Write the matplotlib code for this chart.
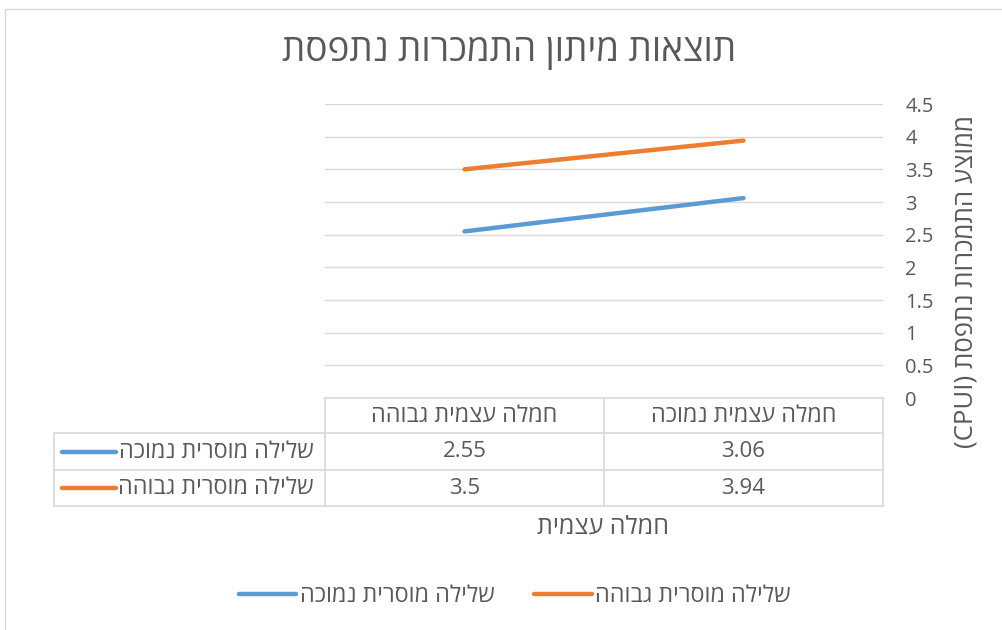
import matplotlib
matplotlib.use("Agg")
import matplotlib.pyplot as plt
from matplotlib.lines import Line2D
from matplotlib.patches import Rectangle

plt.rcParams['font.family'] = ['Open Sans', 'DejaVu Sans']

# ---------------- data ----------------
title = "תוצאות מיתון התמכרות נתפסת"
y_title_he = "ממוצע התמכרות נתפסת"
y_title_latin = "(CPUI)"
x_title = "חמלה עצמית"
categories = ["חמלה עצמית נמוכה", "חמלה עצמית גבוהה"]
series_names = ["שלילה מוסרית נמוכה", "שלילה מוסרית גבוהה"]
series_low_neg = [3.06, 2.55]
series_high_neg = [3.94, 3.5]
series_values = [series_low_neg, series_high_neg]
yticks = [0, 0.5, 1, 1.5, 2, 2.5, 3, 3.5, 4, 4.5]
colors = ["#5B9BD5", "#ED7D31"]

TXT = "#595959"
GRID = "#D9D9D9"
HE_FS = 16.8
NUM_FS = 16


def vis(s):
    """Visual (left-to-right) order for a pure Hebrew string."""
    return s[::-1]


W, H = 1003, 630
fig = plt.figure(figsize=(W / 100, H / 100), dpi=100)


def fx(px):
    return px / W


def fy(py):
    return 1 - py / H


# outer chart border
fig.patches.append(Rectangle((fx(5), fy(640)), fx(1010) - fx(5), fy(9) - fy(640),
                             transform=fig.transFigure, fill=False,
                             edgecolor=GRID, lw=1))

# title
fig.text(fx(509), fy(52), vis(title), ha='center', va='center',
         fontsize=26.5, color=TXT)

# plot area
L, R, T, B = 325, 883, 104, 398
ax = fig.add_axes([fx(L), fy(B), fx(R) - fx(L), fy(T) - fy(B)])
xs = list(range(len(categories)))
for vals, c in zip(series_values, colors):
    ax.plot(xs, vals, color=c, lw=3.2, solid_capstyle='round')
ax.set_xlim(1.5, -0.5)  # right-to-left category order
ax.set_ylim(0, 4.5)
ax.set_yticks(yticks)
ax.set_yticklabels([f"{t:g}" for t in yticks], color=TXT, fontsize=14.5)
ax.yaxis.tick_right()
ax.tick_params(axis='y', length=0, pad=16)
ax.set_xticks([])
for s in ax.spines.values():
    s.set_visible(False)
ax.grid(axis='y', color=GRID, lw=1)
ax.set_axisbelow(True)

# y-axis title
fig.text(fx(966), fy(281), y_title_latin + " " + vis(y_title_he), rotation=90,
         ha='center', va='center', fontsize=18.5, color=TXT)

# ---------------- data table ----------------
col_edges = [L, 604, R]  # columns for categories (left = index 1)
row_edges = [B, 433, 470, 506]
tab_left = 54
ov = fig.add_axes([0, 0, 1, 1])
ov.set_xlim(0, W)
ov.set_ylim(H, 0)
ov.axis('off')
ov.patch.set_alpha(0)

lk = dict(color=GRID, lw=1.2)
ov.plot([L, R], [row_edges[0]] * 2, **lk)
for yy in row_edges[1:]:
    ov.plot([tab_left, R], [yy, yy], **lk)
for xx in col_edges:
    ov.plot([xx, xx], [row_edges[0], row_edges[-1]], **lk)
ov.plot([tab_left, tab_left], [row_edges[1], row_edges[-1]], **lk)

col_centers = {1: (col_edges[0] + col_edges[1]) / 2,
               0: (col_edges[1] + col_edges[2]) / 2}
hy = (row_edges[0] + row_edges[1]) / 2
for i, cat in enumerate(categories):
    ov.text(col_centers[i], hy, vis(cat), ha='center', va='center',
            fontsize=HE_FS, color=TXT)
for r, (name, vals, c) in enumerate(zip(series_names, series_values, colors)):
    cy = (row_edges[r + 1] + row_edges[r + 2]) / 2
    ov.text(314, cy, vis(name), ha='right', va='center', fontsize=HE_FS, color=TXT)
    ov.add_line(Line2D([62, 116], [cy, cy], color=c, lw=3.2,
                       solid_capstyle='round'))
    for i, v in enumerate(vals):
        ov.text(col_centers[i], cy, f"{v:g}", ha='center', va='center',
                fontsize=NUM_FS, color=TXT)

# x-axis title
fig.text(fx(603), fy(527), vis(x_title), ha='center', va='center',
         fontsize=18, color=TXT)

# legend
handles = [Line2D([0], [0], color=c, lw=3.2, solid_capstyle='round')
           for c in colors]
leg = fig.legend(handles, [vis(n) for n in series_names], ncol=2,
                 loc='center', bbox_to_anchor=(fx(515), fy(596)),
                 frameon=False, fontsize=HE_FS, handlelength=2.45,
                 handletextpad=0.15, columnspacing=1.7, labelcolor=TXT)

fig.savefig("out.png", dpi=100)
